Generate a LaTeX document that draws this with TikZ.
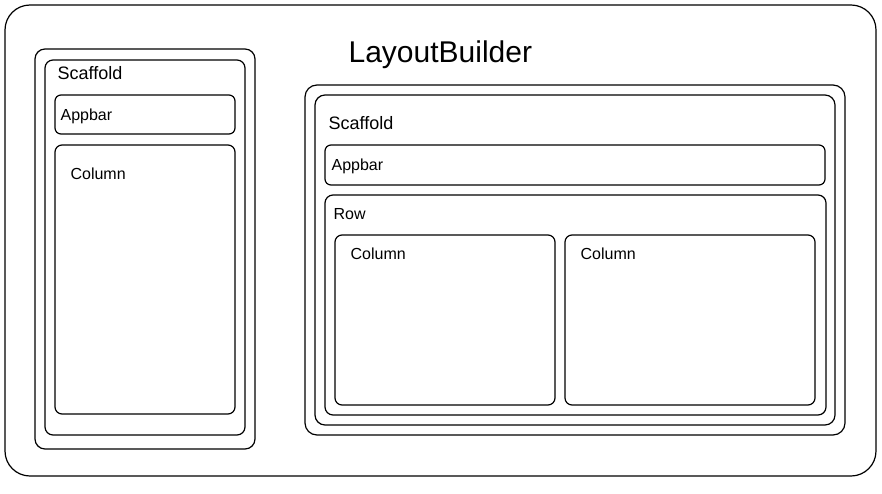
\documentclass[tikz,border=0pt]{standalone}
\usepackage{fontspec}
\setmainfont{Liberation Sans}

\begin{document}
\begin{tikzpicture}[x=1pt, y=-1pt, line width=1.2pt,
  box/.style={draw=black, rounded corners=#1}, box/.default=7pt,
  lbl/.style={anchor=base west, inner sep=0pt, font=\fontsize{16}{18}\selectfont}]
\useasboundingbox (0,0) rectangle (882,494);
\draw[box=25pt] (5,5) rectangle (876,476);
\node[lbl, font=\fontsize{30}{34}\selectfont] (title) at (348,63) {LayoutBuilder};

% phone
\draw[box=10pt] (35,49) rectangle (255,449);
\draw[box=8pt] (45,60) rectangle (245,435);
\node[lbl, font=\fontsize{18}{20}\selectfont] (phonescaffold) at (57,80) {Scaffold};
\draw[box=6pt] (55,95) rectangle (235,134);
\node[lbl] (phoneappbar) at (60,121) {Appbar};
\draw[box] (55,145) rectangle (235,414);
\node[lbl] (phonecolumn) at (70,180) {Column};

% tablet
\draw[box=12pt] (305,85) rectangle (845,435);
\draw[box=10pt] (315,95) rectangle (835,425);
\node[lbl, font=\fontsize{18}{20}\selectfont] (tabscaffold) at (328,130) {Scaffold};
\draw[box=6pt] (325,145) rectangle (825,185);
\node[lbl] (tabappbar) at (331,171) {Appbar};
\draw[box=8pt] (325,195) rectangle (826,415);
\node[lbl] (tabrow) at (333,219) {Row};
\draw[box] (335,235) rectangle (555,405);
\node[lbl] (tabcolumna) at (350,259) {Column};
\draw[box] (565,235) rectangle (815,405);
\node[lbl] (tabcolumnb) at (580,259) {Column};
\end{tikzpicture}
\end{document}
